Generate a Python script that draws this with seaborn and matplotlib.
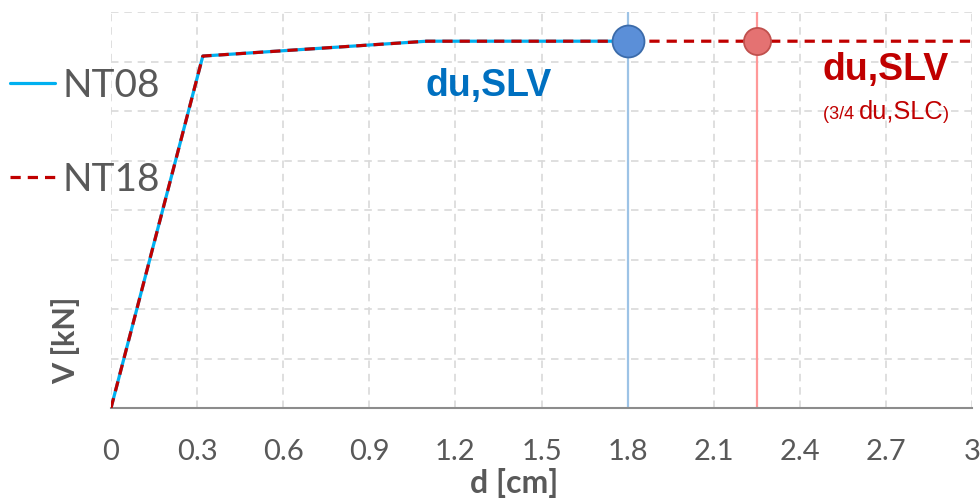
import numpy as np
import pandas as pd
import matplotlib
matplotlib.use("Agg")
import matplotlib.pyplot as plt
import seaborn as sns
from matplotlib.offsetbox import TextArea, HPacker, AnnotationBbox

# Capacity curves (displacement d in cm, base shear V in grid units)
series_names = ["NT08", "NT18"]
d_nt08 = [0.0, 0.32, 1.10, 1.80]
v_nt08 = [0.0, 7.11, 7.41, 7.41]
d_nt18 = [0.0, 0.32, 1.10, 3.00]
v_nt18 = [0.0, 7.11, 7.41, 7.41]

# Ultimate displacement at SLV for each curve
du_slv_nt08 = 1.80
du_slv_nt18 = 2.25
v_du = 7.41

x_ticks = [0, 0.3, 0.6, 0.9, 1.2, 1.5, 1.8, 2.1, 2.4, 2.7, 3.0]
x_tick_labels = ["0", "0.3", "0.6", "0.9", "1.2", "1.5", "1.8", "2.1", "2.4", "2.7", "3"]
y_grid = [0, 1, 2, 3, 4, 5, 6, 7, 8]

CYAN = "#00B0F0"
DARK_RED = "#C00000"
GRAY_TXT = "#595959"

df = pd.concat([
    pd.DataFrame({"d": d_nt08, "V": v_nt08, "series": "NT08"}),
    pd.DataFrame({"d": d_nt18, "V": v_nt18, "series": "NT18"}),
], ignore_index=True)

sns.set_theme(style="white")
plt.rcParams["font.family"] = ["Lato", "DejaVu Sans"]

fig = plt.figure(figsize=(9.8, 5.0), dpi=100)
ax = fig.add_axes([111 / 980, 92 / 500, 861 / 980, 396 / 500])

# grid
ax.set_xticks(x_ticks)
ax.set_xticklabels(x_tick_labels)
ax.set_yticks(y_grid)
ax.set_yticklabels([""] * len(y_grid))
ax.grid(True, color="#D9D9D9", linestyle=(0, (4.5, 3.5)), linewidth=1.2, zorder=0)
ax.set_axisbelow(True)

# vertical markers of du,SLV
ax.axvline(du_slv_nt08, color="#9DC3E6", lw=1.6, zorder=1)
ax.axvline(du_slv_nt18, color="#FF9999", lw=1.6, zorder=1)

sns.lineplot(data=df, x="d", y="V", hue="series", style="series",
             palette={"NT08": CYAN, "NT18": DARK_RED},
             dashes={"NT08": "", "NT18": (3.2, 2.2)},
             linewidth=2.3, ax=ax, zorder=3, sort=False)

# points at du
ax.plot([du_slv_nt08], [v_du], marker="o", ms=23, mfc="#5B8FD8",
        mec="#3B6BAA", mew=1.3, zorder=5, ls="none")
ax.plot([du_slv_nt18], [v_du], marker="o", ms=19.5, mfc="#E47272",
        mec="#C0504D", mew=1.3, zorder=5, ls="none")

ax.set_xlim(0, 3)
ax.set_ylim(0, 8)

for side in ["top", "right", "left"]:
    ax.spines[side].set_visible(False)
ax.spines["bottom"].set_color("#8C8C8C")
ax.spines["bottom"].set_linewidth(1.5)
ax.spines["bottom"].set_zorder(2)

ax.tick_params(axis="both", length=0)
ax.tick_params(axis="x", labelsize=21, labelcolor=GRAY_TXT, pad=22)

ax.set_xlabel("d [cm]", fontsize=23, fontweight="bold", color=GRAY_TXT)
ax.xaxis.set_label_coords(0.468, -0.152)
ax.set_ylabel("V [kN]", fontsize=22, fontweight="bold", color=GRAY_TXT)
ax.yaxis.set_label_coords(-0.036, 0.172)

# legend to the left of the plot
handles, labels = ax.get_legend_handles_labels()
if ax.get_legend() is not None:
    ax.get_legend().remove()
leg = fig.legend(handles, labels, loc="upper left",
                 bbox_to_anchor=(10 / 980, 1 - 68 / 500),
                 bbox_transform=fig.transFigure, frameon=False,
                 fontsize=28, handlelength=1.15, handletextpad=0.2,
                 labelspacing=1.48, borderpad=0, borderaxespad=0)
for t in leg.get_texts():
    t.set_color(GRAY_TXT)

# annotations
ax.text(1.317, 6.5, "du,SLV", color="#0070C0", fontsize=27, fontweight="bold",
        family=["Liberation Sans", "DejaVu Sans"], ha="center", va="center")
ax.text(2.70, 6.83, "du,SLV", color=DARK_RED, fontsize=27, fontweight="bold",
        family=["Liberation Sans", "DejaVu Sans"], ha="center", va="center")

small = dict(color=DARK_RED, fontsize=13, family=["Liberation Sans", "DejaVu Sans"])
big = dict(color=DARK_RED, fontsize=18.3, family=["Liberation Sans", "DejaVu Sans"])
sub = HPacker(children=[TextArea("(3/4 ", textprops=small),
                        TextArea("du,SLC", textprops=big),
                        TextArea(")", textprops=small)],
              align="baseline", pad=0, sep=0)
ab = AnnotationBbox(sub, (2.70, 5.98), xycoords="data", frameon=False,
                    box_alignment=(0.5, 0.5), pad=0)
ax.add_artist(ab)

fig.savefig("out.png", dpi=100)
